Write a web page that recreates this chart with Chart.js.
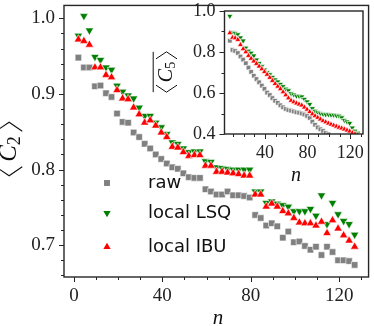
<!DOCTYPE html>
<html>
<head>
<meta charset="utf-8">
<script src="https://cdn.jsdelivr.net/npm/chart.js@4.4.1/dist/chart.umd.min.js"></script>
<style>
  html, body { margin: 0; padding: 0; background: #fff; }
  #wrap { position: relative; width: 374px; height: 326px; }
  #main { position: absolute; left: 0; top: 0; }
  #inset { position: absolute; left: 150px; top: 0; }
</style>
</head>
<body>
<div id="wrap">
  <canvas id="main" width="374" height="326"></canvas>
  <canvas id="inset" width="224" height="190"></canvas>
</div>
<script>
// main panel: <C2> vs n
const nMain = [2, 4.5, 7, 9.5, 12, 14.5, 17, 19.5, 22, 24.5, 27, 29.5, 32, 34.5, 37, 39.5, 42, 44.5, 47, 49.5,
  52, 54.5, 57, 59.5, 62, 64.5, 67, 69.5, 72, 74.5, 77, 79.5, 82, 84.5, 87, 89.5, 92, 94.5, 97, 99.5,
  102, 104.5, 107, 109.5, 112, 114.5, 117, 119.5, 122, 124.5, 127];
const rawMain = [0.948, 0.935, 0.935, 0.910, 0.911, 0.901, 0.896, 0.874, 0.863, 0.862, 0.849, 0.843, 0.834, 0.828, 0.820, 0.814, 0.808, 0.803, 0.801, 0.795,
  0.790, 0.789, 0.789, 0.774, 0.771, 0.767, 0.767, 0.771, 0.766, 0.766, 0.765, 0.763, 0.740, 0.736, 0.726, 0.729, 0.725, 0.710, 0.718, 0.704,
  0.705, 0.699, 0.694, 0.698, 0.687, 0.698, 0.691, 0.680, 0.680, 0.679, 0.674];
const lsqMain = [0.977, 1.003, 0.984, 0.949, 0.945, 0.935, 0.932, 0.911, 0.903, 0.898, 0.894, 0.882, 0.871, 0.871, 0.862, 0.856, 0.847, 0.836, 0.834, 0.828,
  0.823, 0.824, 0.824, 0.811, 0.810, 0.803, 0.802, 0.801, 0.800, 0.800, 0.800, 0.800, 0.771, 0.771, 0.756, 0.758, 0.755, 0.753, 0.751, 0.745,
  0.745, 0.745, 0.748, 0.739, 0.766, 0.728, 0.756, 0.741, 0.732, 0.728, 0.714];
const ibuMain = [0.972, 0.970, 0.965, 0.935, 0.935, 0.925, 0.922, 0.905, 0.894, 0.893, 0.882, 0.873, 0.862, 0.865, 0.858, 0.849, 0.843, 0.830, 0.829, 0.823,
  0.818, 0.819, 0.819, 0.805, 0.805, 0.797, 0.797, 0.796, 0.795, 0.794, 0.792, 0.792, 0.767, 0.767, 0.751, 0.755, 0.751, 0.745, 0.742, 0.736,
  0.730, 0.729, 0.729, 0.726, 0.731, 0.716, 0.733, 0.722, 0.713, 0.706, 0.698];

// inset: <C5> vs n
const nInset = [7, 9.5, 12, 14.5, 17, 19.5, 22, 24.5, 27, 29.5, 32, 34.5, 37, 39.5, 42, 44.5, 47, 49.5, 52, 54.5,
  57, 59.5, 62, 64.5, 67, 69.5, 72, 74.5, 77, 79.5, 82, 84.5, 87, 89.5, 92, 94.5, 97, 99.5, 102, 104.5,
  107, 109.5, 112, 114.5, 117, 119.5, 122, 124.5, 127];
const rawInset = [0.855, 0.81, 0.805, 0.795, 0.778, 0.763, 0.745, 0.724, 0.703, 0.684, 0.668, 0.652, 0.636, 0.62, 0.602, 0.59, 0.575, 0.562, 0.552, 0.54,
  0.53, 0.522, 0.517, 0.514, 0.51, 0.506, 0.504, 0.5, 0.495, 0.488, 0.478, 0.46, 0.445, 0.432, 0.423, 0.415, 0.405, 0.398];
const lsqInset = [0.975, 0.895, 0.892, 0.885, 0.87, 0.855, 0.82, 0.805, 0.795, 0.782, 0.762, 0.745, 0.73, 0.713, 0.7, 0.69, 0.677, 0.665, 0.655, 0.643,
  0.632, 0.62, 0.612, 0.598, 0.592, 0.586, 0.585, 0.582, 0.57, 0.558, 0.545, 0.525, 0.512, 0.505, 0.5, 0.497, 0.495, 0.495, 0.493, 0.493,
  0.49, 0.488, 0.48, 0.467, 0.46, 0.453, 0.43, 0.415, 0.405];
const ibuInset = [0.893, 0.87, 0.868, 0.86, 0.835, 0.815, 0.8, 0.782, 0.768, 0.755, 0.743, 0.73, 0.717, 0.703, 0.69, 0.675, 0.66, 0.645, 0.632, 0.62,
  0.605, 0.59, 0.575, 0.563, 0.556, 0.55, 0.545, 0.54, 0.53, 0.52, 0.508, 0.497, 0.488, 0.48, 0.472, 0.464, 0.458, 0.452, 0.447, 0.442,
  0.437, 0.432, 0.428, 0.423, 0.418, 0.413, 0.405, 0.40, 0.395];

const mainXTicks = [0, 40, 80, 120];
const mainYTicks = [0.7, 0.8, 0.9, 1.0];
const insetXTicks = [40, 80, 120];
const insetYTicks = [0.4, 0.6, 0.8, 1.0];
const seriesNames = ['raw', 'local LSQ', 'local IBU'];

const GREY = '#808080', GREEN = '#008000', RED = '#ff0000', AX = '#262626';
const SERIF = '"Liberation Serif", "DejaVu Serif", serif';
const SANS = '"DejaVu Sans", sans-serif';

const pts = (xs, ys) => xs.map((x, i) => ({x, y: ys[i]})).filter(p => p.y != null);
const range = (a, b, s) => { const out = []; for (let v = a; v <= b + 1e-9; v += s) out.push(+v.toFixed(3)); return out; };

function marker(ctx, style, x, y, r, fill) {
  ctx.fillStyle = fill;
  ctx.beginPath();
  if (style === 'rect') {
    const s = r * Math.SQRT1_2;
    ctx.rect(x - s, y - s, 2 * s, 2 * s);
  } else {
    const d = style === 'down' ? -1 : 1;
    ctx.moveTo(x, y - d * r);
    ctx.lineTo(x - r * 0.866, y + d * r * 0.5);
    ctx.lineTo(x + r * 0.866, y + d * r * 0.5);
    ctx.closePath();
  }
  ctx.fill();
}

// rotated <C_k> label with an overline
function bracketLabel(ctx, cx, cy, f, sub, bw, gap) {
  ctx.save();
  ctx.translate(cx, cy);
  ctx.rotate(-Math.PI / 2);
  ctx.fillStyle = '#111';
  ctx.strokeStyle = '#111';
  ctx.lineWidth = Math.max(1, f / 22);
  ctx.textBaseline = 'alphabetic';
  ctx.font = 'italic ' + f + 'px ' + SERIF;
  const cw = ctx.measureText('C').width;
  ctx.font = Math.round(f * 0.7) + 'px ' + SERIF;
  const sw = ctx.measureText(sub).width;
  const total = bw + gap + cw + sw + gap + bw;
  let x = -total / 2;
  const top = -f * 0.8, bot = f * 0.25, mid = (top + bot) / 2;
  ctx.beginPath();
  ctx.moveTo(x + bw, top); ctx.lineTo(x, mid); ctx.lineTo(x + bw, bot);
  ctx.stroke();
  x += bw + gap;
  ctx.font = 'italic ' + f + 'px ' + SERIF;
  ctx.fillText('C', x, 0);
  x += cw;
  ctx.font = Math.round(f * 0.7) + 'px ' + SERIF;
  ctx.fillText(sub, x, f * 0.15);
  x += sw + gap;
  ctx.beginPath();
  ctx.moveTo(x, top); ctx.lineTo(x + bw, mid); ctx.lineTo(x, bot);
  ctx.stroke();
  ctx.beginPath();
  ctx.moveTo(-total / 2, top - f * 0.14); ctx.lineTo(total / 2, top - f * 0.14);
  ctx.stroke();
  ctx.restore();
}

function italicN(ctx, x, y, f) {
  ctx.save();
  ctx.fillStyle = '#111';
  ctx.font = 'italic ' + f + 'px ' + SERIF;
  ctx.textAlign = 'center';
  ctx.textBaseline = 'middle';
  ctx.fillText('n', x, y);
  ctx.restore();
}

function decor(cfg) {
  return {
    id: 'decor',
    beforeDatasetsDraw(chart) {
      if (!cfg.fill) return;
      const {ctx, chartArea: a} = chart;
      ctx.save();
      ctx.fillStyle = '#fff';
      ctx.fillRect(a.left, a.top, a.right - a.left, a.bottom - a.top);
      ctx.restore();
    },
    afterDraw(chart) {
      const {ctx, chartArea: a, scales: {x, y}} = chart;
      ctx.save();
      ctx.strokeStyle = AX;
      ctx.lineWidth = cfg.lw;
      ctx.strokeRect(a.left, a.top, a.right - a.left, a.bottom - a.top);
      ctx.lineWidth = 1;
      ctx.beginPath();
      // matplotlib-style outward ticks, majors and minors
      const tick = (vals, len) => {
        vals.forEach(v => {
          const px = Math.round(x.getPixelForValue(v)) + 0.5;
          if (px >= a.left && px <= a.right) { ctx.moveTo(px, a.bottom); ctx.lineTo(px, a.bottom + len); }
        });
      };
      const ytick = (vals, len) => {
        vals.forEach(v => {
          const py = Math.round(y.getPixelForValue(v)) + 0.5;
          if (py >= a.top - 1 && py <= a.bottom + 1) { ctx.moveTo(a.left, py); ctx.lineTo(a.left - len, py); }
        });
      };
      tick(cfg.xMajor, 5); tick(cfg.xMinor, 3);
      ytick(cfg.yMajor, 5); ytick(cfg.yMinor, 3);
      ctx.stroke();
      ctx.restore();
      cfg.extra(ctx, chart);
    }
  };
}

const noPad = s => { s.paddingTop = 0; s.paddingBottom = 0; s.paddingLeft = 0; s.paddingRight = 0; };

function axes(xr, yr, xTicks, yTicks, yw, xh, fs) {
  return {
    x: {
      type: 'linear', min: xr[0], max: xr[1],
      afterFit: s => { s.height = xh; noPad(s); },
      afterBuildTicks: s => { s.ticks = xTicks.map(v => ({value: v})); },
      grid: {display: false, drawTicks: false},
      border: {display: false},
      ticks: {padding: 8, color: '#222', font: {family: SERIF, size: fs}, maxRotation: 0, callback: v => String(v)}
    },
    y: {
      type: 'linear', min: yr[0], max: yr[1],
      afterFit: s => { s.width = yw; noPad(s); },
      afterBuildTicks: s => { s.ticks = yTicks.map(v => ({value: v})); },
      grid: {display: false, drawTicks: false},
      border: {display: false},
      ticks: {padding: 9, color: '#222', font: {family: SERIF, size: fs}, callback: v => v.toFixed(1)}
    }
  };
}

function sets(n, raw, lsq, ibu, r, bw) {
  return [
    {label: seriesNames[0], data: pts(n, raw), pointStyle: 'rect', pointRadius: r, pointBackgroundColor: GREY,
      pointBorderColor: '#fff', pointBorderWidth: bw, order: 3},
    {label: seriesNames[1], data: pts(n, lsq), pointStyle: 'triangle', pointRotation: 180, pointRadius: r * 1.05,
      pointBackgroundColor: GREEN, pointBorderColor: '#fff', pointBorderWidth: bw, order: 2},
    {label: seriesNames[2], data: pts(n, ibu), pointStyle: 'triangle', pointRadius: r * 1.05,
      pointBackgroundColor: RED, pointBorderColor: '#fff', pointBorderWidth: bw, order: 1}
  ];
}

const common = {
  responsive: false, animation: false, devicePixelRatio: 1,
  plugins: {legend: {display: false}, tooltip: {enabled: false}}
};

new Chart(document.getElementById('main'), {
  type: 'scatter',
  data: {datasets: sets(nMain, rawMain, lsqMain, ibuMain, 4.6, 0.6)},
  options: Object.assign({}, common, {
    layout: {padding: {top: 1, right: 2, left: 0, bottom: 0}},
    scales: axes([-4.5, 133.3], [0.658, 1.017], mainXTicks, mainYTicks, 64, 49, 19)
  }),
  plugins: [decor({
    lw: 1.4, fill: false,
    xMajor: mainXTicks, xMinor: range(10, 130, 10).filter(v => v % 40),
    yMajor: mainYTicks, yMinor: range(0.66, 0.98, 0.02).filter(v => Math.abs(v * 10 - Math.round(v * 10)) > 0.01),
    extra(ctx) {
      bracketLabel(ctx, 16, 149, 25, '2', 9, 5);
      italicN(ctx, 218, 318, 21);
      const items = [['rect', GREY, 183], ['down', GREEN, 213], ['up', RED, 247]];
      ctx.save();
      ctx.font = '18px ' + SANS;
      ctx.textBaseline = 'middle';
      items.forEach((it, i) => {
        marker(ctx, it[0], 107, it[2], 4.2, it[1]);
        ctx.fillStyle = '#111';
        ctx.fillText(seriesNames[i], 148, it[2]);
      });
      ctx.restore();
    }
  })]
});

new Chart(document.getElementById('inset'), {
  type: 'scatter',
  data: {datasets: sets(nInset, rawInset, lsqInset, ibuInset, 3.3, 0.7)},
  options: Object.assign({}, common, {
    layout: {padding: {top: 11, right: 11, left: 0, bottom: 0}},
    scales: axes([2, 132], [0.4, 1.0], insetXTicks, insetYTicks, 74.5, 56, 18)
  }),
  plugins: [decor({
    lw: 1.4, fill: true,
    xMajor: insetXTicks, xMinor: range(10, 130, 10).filter(v => v % 40),
    yMajor: insetYTicks, yMinor: [0.5, 0.7, 0.9],
    extra(ctx) {
      bracketLabel(ctx, 22, 72, 20, '5', 7, 3);
      italicN(ctx, 146, 176, 20);
    }
  })]
});
</script>
</body>
</html>
